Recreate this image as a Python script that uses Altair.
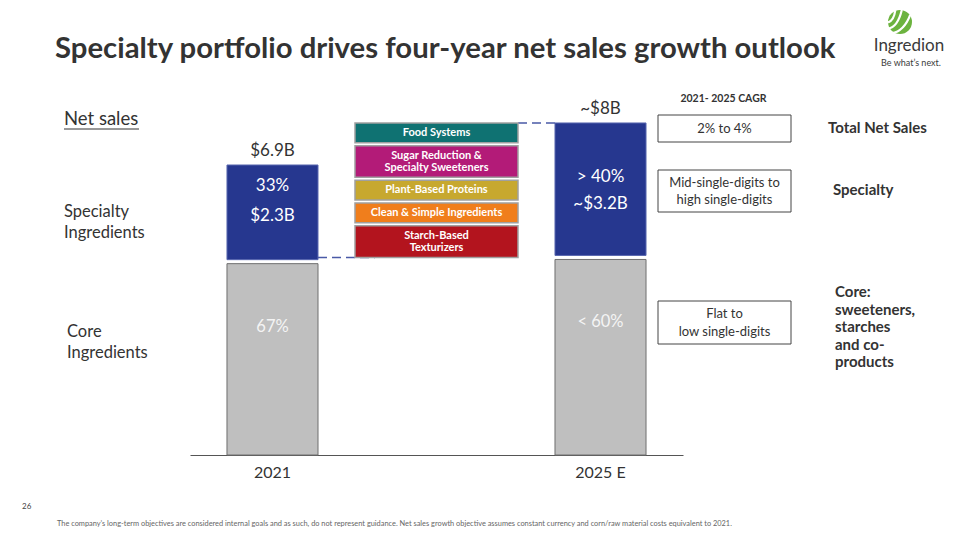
import altair as alt
import pandas as pd

# ---------------- data ----------------
years = ["2021", "2025 E"]
core_sales = [4.6, 4.7]            # $B, core ingredients
specialty_sales = [2.3, 3.2]       # $B, specialty ingredients
core_share = ["67%", "< 60%"]
specialty_share = ["33%", "> 40%"]
specialty_label = ["$2.3B", "~$3.2B"]
total_label = ["$6.9B", "~$8B"]

platforms = [
    "Food Systems",
    "Sugar Reduction &\nSpecialty Sweeteners",
    "Plant-Based Proteins",
    "Clean & Simple Ingredients",
    "Starch-Based\nTexturizers",
]
platform_colors = ["#0F7272", "#B31B78", "#C7A82F", "#F07E1C", "#B3141E"]

cagr_values = ["2% to 4%", "Mid-single-digits to\nhigh single-digits", "Flat to\nlow single-digits"]
cagr_segments = ["Total Net Sales", "Specialty", "Core:\nsweeteners,\nstarches\nand co-\nproducts"]

BRIDGE = "bridge"
x_domain = [years[0], BRIDGE, years[1]]

# ---------------- layout ----------------
FONT = "Lato"
TXT = "#333333"
L, T, W, H = 182, 0, 493, 447
R = 944 - L - W
B = 524 - T - H
PX_PER_B = 42.03
Y_MAX = H / PX_PER_B


def X(p):
    return p - 8 - L


def Y(p):
    return p - 8 - T


one = pd.DataFrame({"k": [0]})

xscale = alt.Scale(domain=x_domain, paddingInner=0.445, paddingOuter=0.2255)
xaxis = alt.Axis(values=years, title=None, ticks=False, domainColor="#555555", domainWidth=1,
                 labelFontSize=16, labelColor=TXT, labelFont=FONT, labelPadding=9,
                 labelAngle=0, grid=False)
yscale = alt.Scale(domain=[0, Y_MAX], nice=False, zero=True)


def xenc(field="year"):
    return alt.X(f"{field}:N", scale=xscale, axis=xaxis, sort=x_domain)


def yenc(field):
    return alt.Y(f"{field}:Q", scale=yscale, axis=None)


# bars table
rows = []
for i, yr in enumerate(years):
    c, s = core_sales[i], specialty_sales[i]
    rows.append(dict(year=yr, seg="Core", lo=0.0, hi=c, share=core_share[i], val=""))
    rows.append(dict(year=yr, seg="Specialty", lo=c, hi=c + s, share=specialty_share[i], val=specialty_label[i]))
bars = pd.DataFrame(rows)
core_df = bars[bars.seg == "Core"]
spec_df = bars[bars.seg == "Specialty"]
tot_df = pd.DataFrame({"year": years,
                       "total": [c + s for c, s in zip(core_sales, specialty_sales)],
                       "label": total_label})

# bridge boxes stacked across the 2025 specialty range
lo_b = core_sales[1]
hi_b = core_sales[1] + specialty_sales[1]
gap = 0.07
weights = [1.0 + 0.6 * p.count("\n") for p in platforms]
unit = ((hi_b - lo_b) - gap * (len(platforms) - 1)) / sum(weights)
brows = []
cur = hi_b
for p, w, col in zip(platforms, weights, platform_colors):
    top = cur
    bot = cur - w * unit
    brows.append(dict(year=BRIDGE, name=p, hi=top, lo=bot, mid=(top + bot) / 2, color=col,
                      lines=p.count("\n") + 1))
    cur = bot - gap
bridge = pd.DataFrame(brows)

rule1 = pd.DataFrame({"year": [years[0]], "year2": [BRIDGE], "level": [core_sales[1]]})
rule2 = pd.DataFrame({"year": [BRIDGE], "year2": [years[1]], "level": [hi_b]})

layers = []

core_bars = alt.Chart(core_df).mark_bar(color="#BFBFBF", stroke="#6E6E6E", strokeWidth=1, yOffset=2).encode(
    x=xenc(), y=yenc("hi"), y2="lo:Q")
spec_bars = alt.Chart(spec_df).mark_bar(color="#26378F", stroke="#5A68B0", strokeWidth=1, y2Offset=-2).encode(
    x=xenc(), y=yenc("hi"), y2="lo:Q")
layers += [core_bars, spec_bars]

dash = dict(strokeDash=[9, 5], color="#4A5AA7", strokeWidth=1.5)
layers.append(alt.Chart(rule1).mark_rule(xOffset=45.5, x2Offset=-61.5, **dash).encode(
    x=xenc(), x2="year2:N", y=yenc("level")))
layers.append(alt.Chart(rule2).mark_rule(xOffset=81.5, x2Offset=-45.5, **dash).encode(
    x=xenc(), x2="year2:N", y=yenc("level")))

bridge_boxes = alt.Chart(bridge).mark_bar(width=163, stroke="#A0A0A0", strokeWidth=1.5).encode(
    x=xenc(), y=yenc("hi"), y2="lo:Q",
    color=alt.Color("color:N", scale=None))
layers.append(bridge_boxes)
for n_lines, dy in [(1, 0), (2, -6)]:
    layers.append(alt.Chart(bridge[bridge.lines == n_lines]).mark_text(
        font=FONT, fontWeight="bold", fontSize=11, color="white",
        lineBreak="\n", lineHeight=12.5, baseline="middle", dy=dy).encode(
        x=xenc(), y=yenc("mid"), text="name:N"))

# value labels
layers.append(alt.Chart(tot_df).mark_text(font=FONT, fontSize=17, color=TXT, baseline="bottom", dy=-5).encode(
    x=xenc(), y=yenc("total"), text="label:N"))
spec_dy = {years[0]: (21, 51), years[1]: (54, 81)}
for yr in years:
    d = spec_df[spec_df.year == yr]
    layers.append(alt.Chart(d).mark_text(font=FONT, fontSize=17, color="white", baseline="middle",
                                         dy=spec_dy[yr][0]).encode(x=xenc(), y=yenc("hi"), text="share:N"))
    layers.append(alt.Chart(d).mark_text(font=FONT, fontSize=17, color="white", baseline="middle",
                                         dy=spec_dy[yr][1]).encode(x=xenc(), y=yenc("hi"), text="val:N"))
layers.append(alt.Chart(core_df).mark_text(font=FONT, fontSize=16.5, color="#F4F4F4", baseline="middle", dy=65).encode(
    x=xenc(), y=yenc("hi"), text="share:N"))


# ---------------- annotations ----------------
def label(text, xp, yp, size, weight="normal", align="left", color=TXT, lh=None):
    kw = dict(text=text, align=align, baseline="middle", fontSize=size, fontWeight=weight,
              color=color, font=FONT, lineBreak="\n")
    if lh is not None:
        kw["lineHeight"] = lh
    return alt.Chart(one).mark_text(**kw).encode(x=alt.value(X(xp)), y=alt.value(Y(yp)))


def box(x1, x2, y1, y2):
    return alt.Chart(one).mark_rect(fill="white", stroke="#444444", strokeWidth=1).encode(
        x=alt.value(X(x1)), x2=alt.value(X(x2)), y=alt.value(Y(y1)), y2=alt.value(Y(y2)))


layers.append(label("Specialty portfolio drives four-year net sales growth outlook", 55, 49, 29.3, "bold"))

# logo
layers.append(alt.Chart(one).mark_point(shape="circle", size=576, filled=True, color="#6CB33F", opacity=1).encode(
    x=alt.value(X(900)), y=alt.value(Y(22))))
layers.append(alt.Chart(one).mark_point(
    shape="M -1 0.55 Q -0.2 0.45 0.15 -1 M -1 0.05 Q -0.5 -0.15 -0.4 -0.95 M -0.7 0.95 Q 0.35 0.75 0.85 -0.6",
    size=576, filled=False, stroke="white", strokeWidth=2.2, opacity=1).encode(
    x=alt.value(X(900)), y=alt.value(Y(22))))
layers.append(label("Ingredion", 909, 46, 17, align="center", color="#3A3A3A"))
layers.append(label("Be what\u2019s next.", 911, 63, 9, align="center", color="#3A3A3A"))

# left labels (multi-line text: y is the first line)
layers.append(label("Net sales", 64, 119, 18.5))
layers.append(alt.Chart(one).mark_rule(color=TXT, strokeWidth=1).encode(
    x=alt.value(X(64)), x2=alt.value(X(139)), y=alt.value(Y(129))))
layers.append(label("Specialty\nIngredients", 64, 212, 16.5, lh=21))
layers.append(label("Core\nIngredients", 67, 332, 16.5, lh=21))

# right side CAGR panel
layers.append(label("2021- 2025 CAGR", 723.5, 99, 10.5, "bold", align="center"))
layers.append(box(658, 791, 115, 142))
layers.append(box(658, 791, 170, 212))
layers.append(box(658, 791, 301, 344))
layers.append(label(cagr_values[0], 724.5, 128.5, 13, align="center"))
layers.append(label(cagr_values[1], 724.5, 183, 13, align="center", lh=17))
layers.append(label(cagr_values[2], 724.5, 314, 13, align="center", lh=18))
layers.append(label(cagr_segments[0], 828, 128, 15, "bold"))
layers.append(label(cagr_segments[1], 833, 190, 15, "bold"))
layers.append(label(cagr_segments[2], 835, 292, 15, "bold", lh=17.5))

# footer
layers.append(label("26", 22, 507, 8, color="#444444"))
layers.append(label("The company\u2019s long-term objectives are considered internal goals and as such, do not represent "
                    "guidance. Net sales growth objective assumes constant currency and corn/raw material costs "
                    "equivalent to 2021.", 57, 524, 7.4, color="#666666"))

chart = alt.layer(*layers).properties(
    width=W, height=H,
    padding={"left": L, "top": T, "right": R, "bottom": B},
    autosize=alt.AutoSizeParams(type="none"),
).configure_view(stroke=None)

chart.save("out.html", embed_options={"renderer": "svg", "actions": False})
